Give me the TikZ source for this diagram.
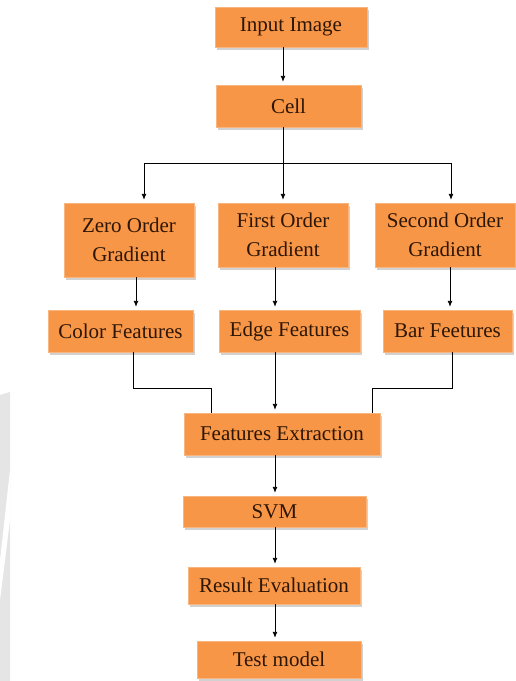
\documentclass[tikz,border=0pt]{standalone}
\usepackage{fontspec}
\setmainfont{Liberation Serif}
\usetikzlibrary{arrows.meta,shadows}
\definecolor{boxorange}{HTML}{F79646}
\definecolor{txtdark}{HTML}{2E1606}
\tikzset{
  box/.style={fill=boxorange, draw=boxorange!70!white, line width=0.4pt, text=txtdark,
    font=\fontsize{21}{29}\selectfont, align=center, inner sep=0pt,
    drop shadow={opacity=1, fill=black!18, shadow xshift=1.5pt, shadow yshift=-3pt}},
  arr/.style={-{Latex[length=6pt,width=5pt]}, line width=0.9pt, shorten >=3pt},
  ln/.style={line width=0.9pt}
}
\begin{document}
\begin{tikzpicture}[x=1pt,y=-1pt]
\useasboundingbox (0,0) rectangle (515,681);
% faint watermark at left
\fill[black!10] (0,395) -- (10,392) -- (10,681) -- (0,681) -- cycle;
\fill[white] (0,560) -- (10,470) -- (10,520) -- (0,600) -- cycle;

\node[box, minimum width=152pt, minimum height=40pt] (in) at (291,27) {Input Image};
\node[box, minimum width=145pt, minimum height=42pt] (cell) at (288.5,106) {Cell};
\node[box, minimum width=130pt, minimum height=74pt] (zero) at (129,240) {Zero Order\\Gradient};
\node[box, minimum width=130pt, minimum height=64pt] (first) at (283,235) {First Order\\Gradient};
\node[box, minimum width=140pt, minimum height=64pt] (second) at (445,235) {Second Order\\Gradient};
\node[box, minimum width=145pt, minimum height=42pt] (color) at (120.5,331) {Color Features};
\node[box, minimum width=141pt, minimum height=42pt] (edge) at (289.5,331) {Edge Features};
\node[box, minimum width=129pt, minimum height=42pt] (bar) at (447.5,331) {Bar Feetures};
\node[box, minimum width=196pt, minimum height=42pt] (fe) at (282,434) {Features Extraction};
\node[box, minimum width=183pt, minimum height=31pt] (svm) at (274.5,511.5) {SVM};
\node[box, minimum width=172pt, minimum height=37pt] (res) at (274,585.5) {Result Evaluation};
\node[box, minimum width=164pt, minimum height=37pt] (test) at (279,659.5) {Test model};

\coordinate (cA) at (283,0);
\coordinate (cB) at (275,0);
\coordinate (split) at (283,163);
\coordinate (sl) at (144,163);
\coordinate (sr) at (451,163);
\coordinate (jl) at (133,388);
\coordinate (jl2) at (211,388);
\coordinate (jr) at (452,388);
\coordinate (jr2) at (372,388);

\draw[arr] (in.south -| cA) -- (cell.north -| cA);
\draw[ln] (cell.south -| cA) -- (split);
\draw[ln] (sl) -- (sr);
\draw[arr] (sl) -- (zero.north -| sl);
\draw[arr] (split) -- (first.north -| split);
\draw[arr] (sr) -- (second.north -| sr);
\draw[arr] (zero.south -| 136,0) -- (color.north -| 136,0);
\draw[arr] (first.south -| cB) -- (edge.north -| cB);
\draw[arr] (second.south -| 450,0) -- (bar.north -| 450,0);
\draw[ln] (color.south -| jl) -- (jl) -- (jl2) -- (fe.north -| jl2);
\draw[arr] (edge.south -| cB) -- (fe.north -| cB);
\draw[ln] (bar.south -| jr) -- (jr) -- (jr2) -- (fe.north -| jr2);
\draw[arr] (fe.south -| cB) -- (svm.north -| cB);
\draw[arr] (svm.south -| cB) -- (res.north -| cB);
\draw[arr] (res.south -| cB) -- (test.north -| cB);
\end{tikzpicture}
\end{document}
